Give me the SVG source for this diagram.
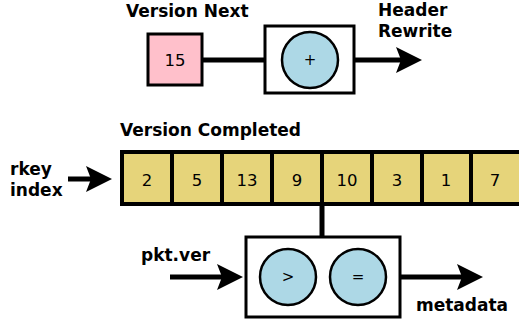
<svg xmlns="http://www.w3.org/2000/svg" width="519" height="321" viewBox="0 0 519 321">
<defs>
<style>
.lbl{font-family:"DejaVu Sans",sans-serif;font-weight:bold;font-size:17px;fill:#000}
.num{font-family:"DejaVu Sans",sans-serif;font-size:16.5px;fill:#000;text-anchor:middle;dominant-baseline:central}
.op{font-family:"DejaVu Sans",sans-serif;font-size:15px;fill:#000;text-anchor:middle;dominant-baseline:central}
.box{fill:#fff;stroke:#000;stroke-width:3}
.cir{fill:#add8e6;stroke:#000;stroke-width:2.5}
.cell{fill:#e6d47a;stroke:#000;stroke-width:4}
.ln{stroke:#000;stroke-width:5;fill:none}
</style>
<marker id="ah" viewBox="0 0 26 26" refX="16" refY="13" markerWidth="26" markerHeight="26" markerUnits="userSpaceOnUse" orient="auto">
<path d="M0,0 L26,13 L0,26 L5,13 Z" fill="#000"/>
</marker>
</defs>
<g id="labels">
<text class="lbl" x="126" y="17">Version Next</text>
<text class="lbl" x="378" y="16">Header</text>
<text class="lbl" x="378" y="37">Rewrite</text>
<text class="lbl" x="120" y="136">Version Completed</text>
<text class="lbl" x="10" y="175">rkey</text>
<text class="lbl" x="10" y="196">index</text>
<text class="lbl" x="141" y="261">pkt.ver</text>
<text class="lbl" x="416" y="311">metadata</text>
</g>
<g id="connectors">
<line class="ln" x1="202" y1="60" x2="265" y2="60"/>
<line class="ln" x1="354" y1="60" x2="412" y2="60" marker-end="url(#ah)"/>
<line class="ln" x1="68" y1="179" x2="102" y2="179" marker-end="url(#ah)"/>
<line class="ln" x1="322" y1="204" x2="322" y2="237"/>
<line class="ln" x1="170" y1="277" x2="233" y2="277" marker-end="url(#ah)"/>
<line class="ln" x1="400" y1="277" x2="473" y2="277" marker-end="url(#ah)"/>
</g>
<g id="version-next">
<rect x="148" y="34" width="54" height="51" fill="#ffc0cb" stroke="#000" stroke-width="3"/>
<text class="num" x="175" y="60">15</text>
</g>
<g id="adder">
<rect class="box" x="265" y="26" width="89" height="67"/>
<circle class="cir" cx="310" cy="60" r="28"/>
<text class="op" x="310" y="60">+</text>
</g>
<g id="version-completed">
<rect class="cell" x="122" y="152" width="50" height="52"/>
<rect class="cell" x="172" y="152" width="50" height="52"/>
<rect class="cell" x="222" y="152" width="50" height="52"/>
<rect class="cell" x="272" y="152" width="50" height="52"/>
<rect class="cell" x="322" y="152" width="50" height="52"/>
<rect class="cell" x="372" y="152" width="50" height="52"/>
<rect class="cell" x="422" y="152" width="49" height="52"/>
<rect class="cell" x="471" y="152" width="50" height="52"/>
<text class="num" x="147" y="180">2</text>
<text class="num" x="197" y="180">5</text>
<text class="num" x="247" y="180">13</text>
<text class="num" x="297" y="180">9</text>
<text class="num" x="347" y="180">10</text>
<text class="num" x="397" y="180">3</text>
<text class="num" x="446" y="180">1</text>
<text class="num" x="495" y="180">7</text>
</g>
<g id="comparator">
<rect class="box" x="246" y="237" width="154" height="80"/>
<circle class="cir" cx="288" cy="277" r="28"/>
<text class="op" x="288" y="277">&gt;</text>
<circle class="cir" cx="358" cy="277" r="28"/>
<text class="op" x="358" y="277">=</text>
</g>
</svg>
